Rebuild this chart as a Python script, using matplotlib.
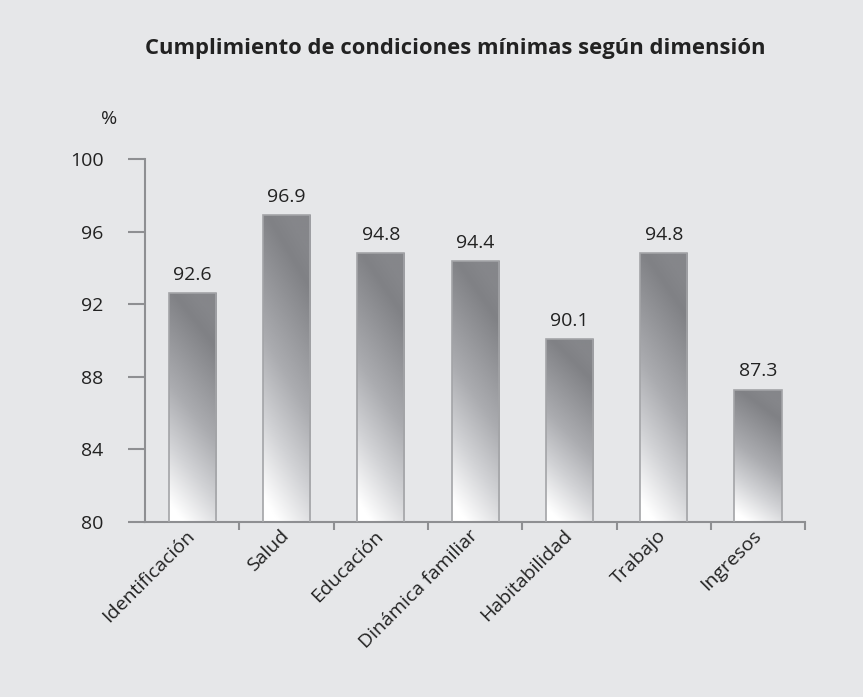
import numpy as np
import matplotlib.pyplot as plt
from matplotlib.colors import LinearSegmentedColormap
from matplotlib.patches import Rectangle

categorias = ['Identificación', 'Salud', 'Educación', 'Dinámica familiar',
              'Habitabilidad', 'Trabajo', 'Ingresos']
valores = [92.6, 96.9, 94.8, 94.4, 90.1, 94.8, 87.3]

plt.rcParams['font.family'] = ['Open Sans', 'DejaVu Sans']
fondo = '#e6e7e9'
gris = '#8e8f92'
texto = '#222222'

fig = plt.figure(figsize=(8.63, 6.97), dpi=100, facecolor=fondo)
ax = fig.add_axes([0.168, 0.251, 0.765, 0.521], facecolor=fondo)

x = np.arange(len(categorias)) + 0.5
barras = ax.bar(x, valores, width=0.5, bottom=0, color='none',
                edgecolor='#a3a4a7', linewidth=1.2, zorder=3)

# degradado diagonal: blanco abajo a la izquierda, gris oscuro arriba
cmap = LinearSegmentedColormap.from_list(
    'g', [(0, '#ffffff'), (0.25, '#d2d3d6'), (0.5, '#abacb0'),
          (0.75, '#909195'), (0.9, '#808185'), (1, '#85868a')])
gx, gy = np.meshgrid(np.linspace(0, 1, 60), np.linspace(0, 1, 200))
for b, v in zip(barras, valores):
    x0 = b.get_x()
    w = b.get_width()
    h = v - 80
    t = np.clip(gy * 0.95 + (gx - 0.3) * 0.25, 0, 1)
    img = ax.imshow(t, cmap=cmap, vmin=0, vmax=1, origin='lower',
                    extent=(x0, x0 + w, 80, v), aspect='auto', zorder=2,
                    interpolation='bilinear')
    img.set_clip_path(Rectangle((x0, 80), w, h, transform=ax.transData))
    ax.text(b.get_x() + w / 2, v + 0.5, f'{v:.1f}', ha='center', va='bottom',
            fontsize=14, color=texto)

ax.set_xlim(0, 7)
ax.set_ylim(80, 100)
ax.set_yticks([80, 84, 88, 92, 96, 100])
ax.set_xticks(x)
ax.set_xticklabels(categorias, rotation=45, ha='right', va='center',
                   rotation_mode='anchor', fontsize=14, color=texto)
ax.set_xticks(np.arange(1, 8), minor=True)
ax.tick_params(axis='x', which='major', length=0, pad=8)
ax.tick_params(axis='x', which='minor', length=6, width=1.5, color=gris,
               direction='out')
ax.tick_params(axis='y', length=12, width=1.5, color=gris, labelsize=14,
               labelcolor=texto, pad=18)

for s in ['top', 'right']:
    ax.spines[s].set_visible(False)
for s in ['left', 'bottom']:
    ax.spines[s].set_color(gris)
    ax.spines[s].set_linewidth(1.5)

fig.text(0.117, 0.822, '%', fontsize=14, color=texto)
fig.text(0.528, 0.93, 'Cumplimiento de condiciones mínimas según dimensión',
         ha='center', va='center', fontsize=15.8, fontweight='bold', color=texto)

fig.savefig('out.png', dpi=100, facecolor=fondo)
